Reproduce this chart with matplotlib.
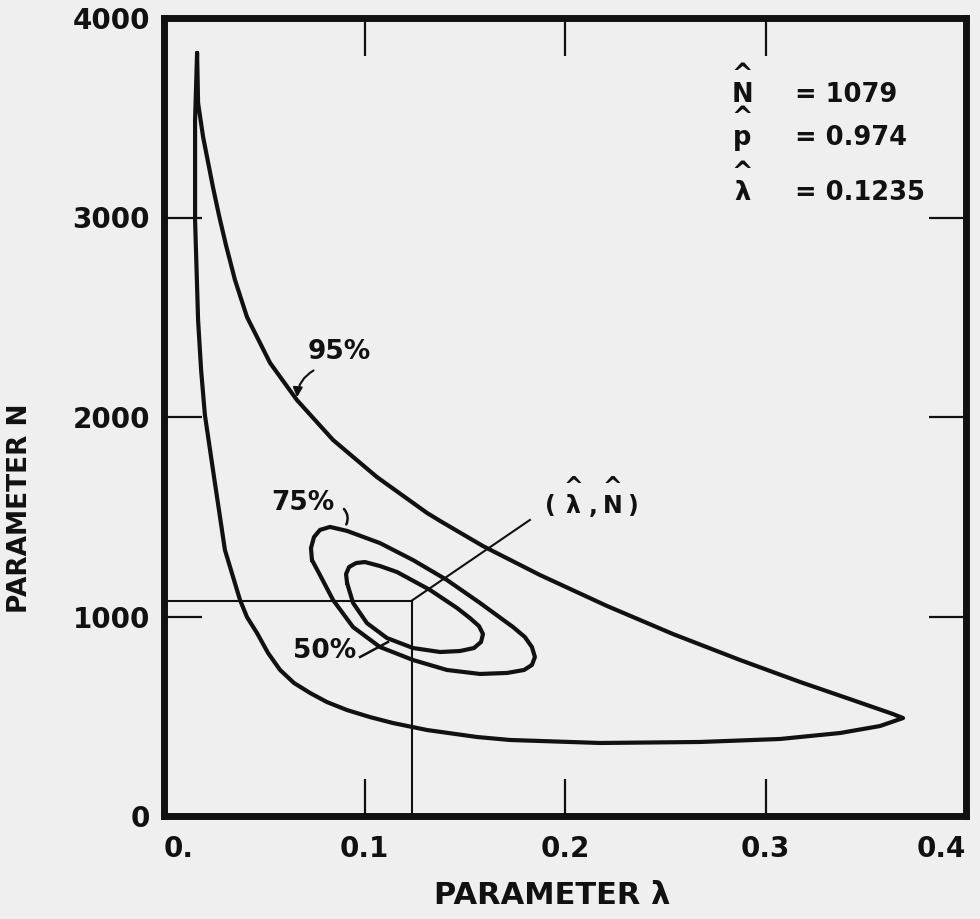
import matplotlib
matplotlib.use("Agg")
import matplotlib.pyplot as plt

# ---- data ----
lam95 = [0.0165, 0.0155, 0.0155, 0.0170, 0.0185, 0.0204, 0.0254, 0.0304, 0.0379, 0.0414,
         0.0464, 0.0519, 0.0579, 0.0648, 0.0728, 0.0813, 0.0913, 0.1027, 0.1142, 0.1312,
         0.1561, 0.1726, 0.2175, 0.2673, 0.3072, 0.3372, 0.3571, 0.3686,
         0.3636, 0.3421, 0.3172, 0.2873, 0.2539, 0.2209, 0.1875, 0.1591, 0.1377, 0.1312,
         0.1062, 0.0843, 0.0663, 0.0529, 0.0414, 0.0354, 0.0309, 0.0274, 0.0244, 0.0195,
         0.0170, 0.0165]
N95 = [3825, 3489, 2987, 2486, 2236, 2010, 1669, 1333, 1083, 997,
       917, 817, 732, 667, 617, 571, 531, 496, 466, 431,
       396, 381, 366, 371, 386, 416, 451, 491,
       511, 586, 672, 782, 912, 1053, 1208, 1353, 1479, 1519,
       1699, 1885, 2085, 2271, 2501, 2687, 2862, 3012, 3153, 3404,
       3574, 3825]

lam75 = [0.0738, 0.0733, 0.0748, 0.0778, 0.0828, 0.0913, 0.1077, 0.1242, 0.1411, 0.1576,
         0.1741, 0.1800, 0.1835, 0.1850, 0.1835, 0.1796, 0.1711, 0.1576, 0.1411, 0.1242,
         0.1077, 0.0943, 0.0843, 0.0778, 0.0738]
N75 = [1283, 1343, 1398, 1434, 1449, 1429, 1368, 1283, 1183, 1068,
       947, 897, 847, 797, 757, 732, 717, 712, 732, 782,
       847, 947, 1083, 1208, 1283]

lam50 = [0.0913, 0.0908, 0.0923, 0.0958, 0.1002, 0.1077, 0.1162, 0.1327, 0.1461, 0.1526,
         0.1571, 0.1591, 0.1581, 0.1546, 0.1476, 0.1377, 0.1242, 0.1112, 0.1012, 0.0943,
         0.0913]
N50 = [1168, 1213, 1248, 1268, 1273, 1253, 1223, 1133, 1043, 992,
       952, 912, 872, 842, 827, 822, 842, 892, 967, 1068,
       1168]

lam_hat = 0.1235
N_hat = 1079
p_hat = 0.974

xticks = [0.0, 0.1, 0.2, 0.3, 0.4]
xticklabels = ["0.", "0.1", "0.2", "0.3", "0.4"]
yticks = [0, 1000, 2000, 3000, 4000]
yticklabels = ["0", "1000", "2000", "3000", "4000"]

bg = "#efefef"
ink = "#111111"
FONT = "DejaVu Sans"

fig = plt.figure(figsize=(9.8, 9.19), dpi=100, facecolor=bg)
ax = fig.add_axes([164 / 980, 103 / 919, 802 / 980, 798 / 919], facecolor=bg)

ax.set_xlim(0, 0.4)
ax.set_ylim(0, 4000)

for s in ax.spines.values():
    s.set_linewidth(5.0)
    s.set_color(ink)

ax.set_xticks(xticks)
ax.set_xticklabels(xticklabels, fontsize=20, fontweight="bold", family=FONT, color=ink)
ax.set_yticks(yticks)
ax.set_yticklabels(yticklabels, fontsize=20, fontweight="bold", family=FONT, color=ink)
ax.tick_params(direction="in", length=27, width=1.6, color=ink,
               top=True, right=True)
ax.tick_params(axis="y", pad=10)
ax.tick_params(axis="x", pad=14)
xl = ax.get_xticklabels()
xl[0].set_ha("left")
xl[-1].set_ha("right")

ax.set_xlabel("PARAMETER λ", fontsize=22, fontweight="bold", family=FONT, color=ink)
ax.xaxis.set_label_coords(0.484, -0.082)
ax.set_ylabel("PARAMETER N", fontsize=19, fontweight="bold", family=FONT, color=ink)
ax.yaxis.set_label_coords(-0.163, 0.386)

lw = 3.0
for xs, ys in ((lam95, N95), (lam75, N75), (lam50, N50)):
    ax.plot(xs, ys, color=ink, lw=lw, solid_joinstyle="round", solid_capstyle="round")

# reference lines to the estimate
ax.plot([0, lam_hat], [N_hat, N_hat], color=ink, lw=1.5)
ax.plot([lam_hat, lam_hat], [0, N_hat], color=ink, lw=1.5)
ax.plot([lam_hat, 0.1825], [N_hat, 1484], color=ink, lw=1.5)

# contour labels
tkw = dict(fontsize=19, fontweight="bold", family=FONT, color=ink, ha="center", va="center")
ax.text(0.0873, 2326, "95%", **tkw)
ax.annotate("", xy=(0.0663, 2085), xytext=(0.0758, 2240),
            arrowprops=dict(arrowstyle="-|>", color=ink, lw=1.5, mutation_scale=14,
                            connectionstyle="arc3,rad=0.3"))
ax.text(0.0693, 1569, "75%", **tkw)
ax.annotate("", xy=(0.0903, 1449), xytext=(0.0888, 1549),
            arrowprops=dict(arrowstyle="-", color=ink, lw=1.8,
                            connectionstyle="arc3,rad=-0.4"))
ax.text(0.0803, 827, "50%", **tkw)
ax.plot([0.0978, 0.1117], [797, 872], color=ink, lw=1.8)

# (lambda-hat, N-hat) label
mkw = dict(fontsize=17, fontweight="bold", family=FONT, color=ink, ha="center", va="baseline")
ax.text(0.1925, 1519, "(", **mkw)
ax.text(0.2040, 1519, "^\nλ", linespacing=0.75, **mkw)
ax.text(0.2140, 1519, ",", **mkw)
ax.text(0.2239, 1519, "^\nN", linespacing=0.75, **mkw)
ax.text(0.2334, 1519, ")", **mkw)

# estimates block
lkw = dict(fontsize=18.5, fontweight="bold", family=FONT, color=ink, ha="center", va="baseline")
rkw = dict(fontsize=18.5, fontweight="bold", family=FONT, color=ink, ha="left", va="baseline")
rows = [("N", f"= {N_hat}", 3579), ("p", f"= {p_hat}", 3363), ("λ", f"= {lam_hat}", 3088)]
for sym, val, yb in rows:
    ax.text(0.2883, yb, "^\n" + sym, linespacing=0.68, **lkw)
    ax.text(0.3147, yb, val, **rkw)

fig.savefig("out.png", dpi=100, facecolor=bg)
